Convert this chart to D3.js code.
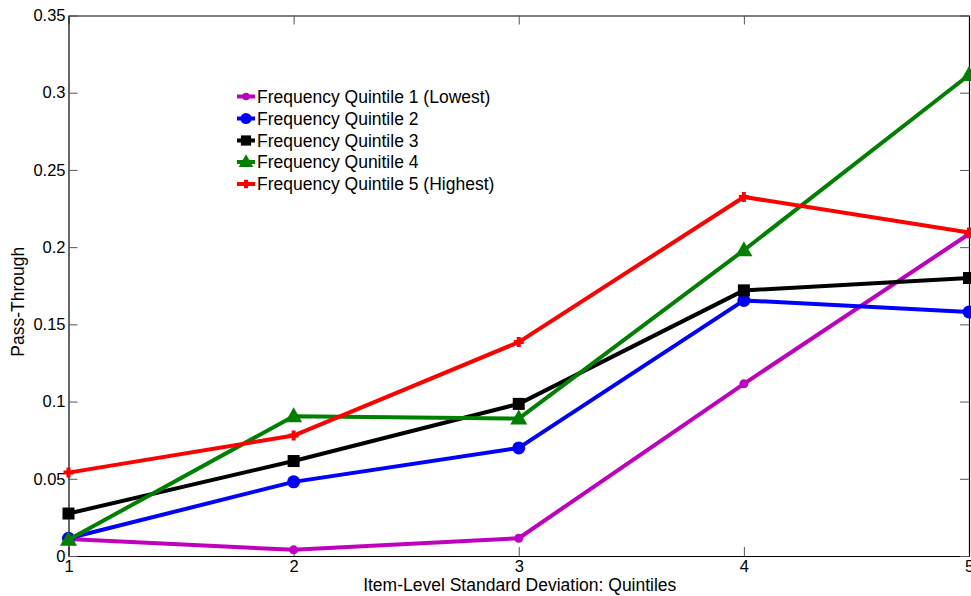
<!DOCTYPE html>
<html><head><meta charset="utf-8">
<script src="https://cdn.jsdelivr.net/npm/d3@7"></script>
<style>body{margin:0;background:#fff}svg{display:block}text{font-family:"Liberation Sans",Arial,sans-serif;fill:#000}</style>
</head><body><svg id="c" width="971" height="596"></svg>
<script>
const xCategories = [1, 2, 3, 4, 5];
const yTicks = [0, 0.05, 0.1, 0.15, 0.2, 0.25, 0.3, 0.35];
const yTickLabels = ["0", "0.05", "0.1", "0.15", "0.2", "0.25", "0.3", "0.35"];
const seriesNames = ["Frequency Quintile 1 (Lowest)", "Frequency Quintile 2", "Frequency Quintile 3", "Frequency Qunitile 4", "Frequency Quintile 5 (Highest)"];
const q1 = [0.011, 0.004, 0.0115, 0.1115, 0.2085];
const q2 = [0.0115, 0.048, 0.070, 0.1655, 0.158];
const q3 = [0.0275, 0.0615, 0.0985, 0.172, 0.180];
const q4 = [0.0105, 0.0905, 0.089, 0.198, 0.3115];
const q5 = [0.054, 0.078, 0.1385, 0.2325, 0.2095];
const colors = ["#bf00bf", "#0000ff", "#000000", "#008000", "#ff0000"];
const markers = ["dot", "circle", "square", "triangle", "plus"];
const series = [q1, q2, q3, q4, q5];

const svg = d3.select("#c");
const L = 68.5, R = 969, T = 15.5, B = 556;
const x = d3.scaleLinear().domain([1, 5]).range([L, R]);
const y = d3.scaleLinear().domain([0, 0.35]).range([B, T]);

const tickLen = 9;
const ax = svg.append("g");
ax.append("g").attr("transform", `translate(0,${B})`)
  .call(d3.axisBottom(x).tickValues(xCategories).tickFormat(d3.format("d")).tickSizeInner(-tickLen).tickSizeOuter(0).tickPadding(4));
ax.append("g").attr("transform", `translate(0,${T})`)
  .call(d3.axisTop(x).tickValues(xCategories).tickFormat("").tickSizeInner(-tickLen).tickSizeOuter(0));
ax.append("g").attr("transform", `translate(${L},0)`)
  .call(d3.axisLeft(y).tickValues(yTicks).tickFormat((d, i) => yTickLabels[i]).tickSizeInner(-tickLen).tickSizeOuter(0).tickPadding(3));
ax.append("g").attr("transform", `translate(${R},0)`)
  .call(d3.axisRight(y).tickValues(yTicks).tickFormat("").tickSizeInner(-tickLen).tickSizeOuter(0));
ax.selectAll("text").style("font-size", "16.5px").style("font-family", '"Liberation Sans",Arial,sans-serif');
ax.selectAll(".tick line").attr("stroke", "#555");
ax.selectAll(".domain").attr("stroke", "#000").attr("stroke-width", 1.2);

function drawMarker(g, type, cx, cy, color, scale) {
  const s = scale || 1;
  if (type === "dot") g.append("circle").attr("cx", cx).attr("cy", cy).attr("r", 4.5 * s).attr("fill", color);
  else if (type === "circle") g.append("circle").attr("cx", cx).attr("cy", cy).attr("r", 6.5 * s).attr("fill", color);
  else if (type === "square") g.append("rect").attr("x", cx - 6 * s).attr("y", cy - 6 * s).attr("width", 12 * s).attr("height", 12 * s).attr("fill", color);
  else if (type === "triangle") g.append("path").attr("d", `M${cx},${cy - 9 * s}L${cx + 8.5 * s},${cy + 6 * s}L${cx - 8.5 * s},${cy + 6 * s}Z`).attr("fill", color);
  else if (type === "plus") g.append("path").attr("d", `M${cx - 5 * s},${cy}H${cx + 5 * s}M${cx},${cy - 5 * s}V${cy + 5 * s}`).attr("stroke", color).attr("stroke-width", 4);
}

const line = d3.line().x((d, i) => x(xCategories[i])).y(d => y(d));
series.forEach((s, k) => {
  const g = svg.append("g");
  g.append("path").attr("d", line(s)).attr("fill", "none").attr("stroke", colors[k]).attr("stroke-width", 4).attr("stroke-linejoin", "round");
  s.forEach((v, i) => drawMarker(g, markers[k], x(xCategories[i]), y(v), colors[k]));
});

const legY = [96.5, 118.5, 140.5, 162, 184];
seriesNames.forEach((n, k) => {
  const g = svg.append("g");
  g.append("line").attr("x1", 237).attr("x2", 255).attr("y1", legY[k]).attr("y2", legY[k]).attr("stroke", colors[k]).attr("stroke-width", 4);
  drawMarker(g, markers[k], 246, legY[k], colors[k], 0.85);
  g.append("text").attr("x", 257).attr("y", legY[k]).attr("dy", "0.35em").style("font-size", "17.5px").text(n);
});

svg.append("text").attr("x", (L + R) / 2 + 1).attr("y", 591).attr("text-anchor", "middle").style("font-size", "17.5px").text("Item-Level Standard Deviation: Quintiles");
svg.append("text").attr("transform", `translate(24,${(T + B) / 2 + 16}) rotate(-90)`).attr("text-anchor", "middle").style("font-size", "17.5px").text("Pass-Through");
</script></body></html>
